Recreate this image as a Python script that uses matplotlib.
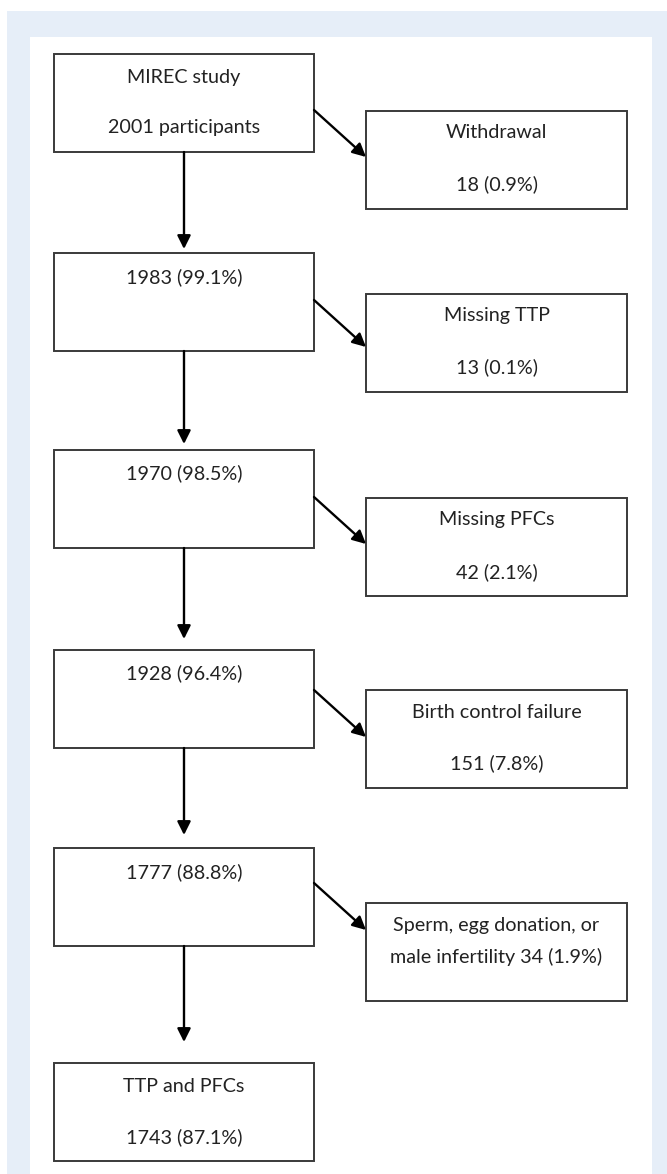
import matplotlib
matplotlib.use("Agg")
import matplotlib.pyplot as plt
from matplotlib.patches import Rectangle

# --- flow-chart content ------------------------------------------------------
main_labels = [
    ["MIREC study", "2001 participants"],
    ["1983 (99.1%)"],
    ["1970 (98.5%)"],
    ["1928 (96.4%)"],
    ["1777 (88.8%)"],
    ["TTP and PFCs", "1743 (87.1%)"],
]
excl_labels = [
    ["Withdrawal", "18 (0.9%)"],
    ["Missing TTP", "13 (0.1%)"],
    ["Missing PFCs", "42 (2.1%)"],
    ["Birth control failure", "151 (7.8%)"],
    ["Sperm, egg donation, or", "male infertility 34 (1.9%)"],
]

# --- layout (pixels, y down) -------------------------------------------------
W, H = 667, 1174
main_x0, main_x1 = 54, 314
main_tops = [54, 253, 450, 650, 848, 1063]
main_h = 98
main_line_y = [[23, 74], [24], [23], [23], [24], [23, 74]]
arrow_tips = [249, 444, 639, 835, 1042]

excl_x0, excl_x1 = 366, 627
excl_tops = [111, 294, 498, 690, 903]
excl_h = 98
excl_line_y = [[22, 73], [22, 73], [22, 74], [22, 73], [23, 54]]
diag_ends = [157, 347, 544, 737, 930]

BLUE_BG = "#e6eef8"
TEXT = "#222222"
EDGE = "#3a3a3a"
FONT = ["Lato", "DejaVu Sans"]
FS = 14.2

fig = plt.figure(figsize=(W / 100, H / 100), dpi=100)
ax = fig.add_axes([0, 0, 1, 1])
ax.set_xlim(0, W)
ax.set_ylim(H, 0)
ax.axis("off")

# backgrounds
ax.add_patch(Rectangle((7, 11), W - 7, H - 11, facecolor=BLUE_BG, edgecolor="none"))
ax.add_patch(Rectangle((30, 37), 652 - 30, H - 37, facecolor="white", edgecolor="none"))


def box(x0, x1, top, h, lines, offsets):
    ax.add_patch(Rectangle((x0, top), x1 - x0, h, facecolor="white",
                           edgecolor=EDGE, linewidth=1.4))
    cx = (x0 + x1) / 2
    for txt, dy in zip(lines, offsets):
        ax.text(cx, top + dy, txt, ha="center", va="center", fontsize=FS,
                color=TEXT, family=FONT)


def arrow(p0, p1):
    ax.annotate("", xy=p1, xytext=p0,
                arrowprops=dict(arrowstyle="-|>", color="black", lw=1.7,
                                mutation_scale=20, shrinkA=0, shrinkB=0))


for top, lines, offs in zip(main_tops, main_labels, main_line_y):
    box(main_x0, main_x1, top, main_h, lines, offs)

for top, lines, offs in zip(excl_tops, excl_labels, excl_line_y):
    box(excl_x0, excl_x1, top, excl_h, lines, offs)

cx_main = (main_x0 + main_x1) / 2
for top, tip in zip(main_tops[:-1], arrow_tips):
    arrow((cx_main, top + main_h), (cx_main, tip))

for end in diag_ends:
    arrow((main_x1, end - 47), (excl_x0, end))

fig.savefig("out.png", dpi=100, facecolor="white")
